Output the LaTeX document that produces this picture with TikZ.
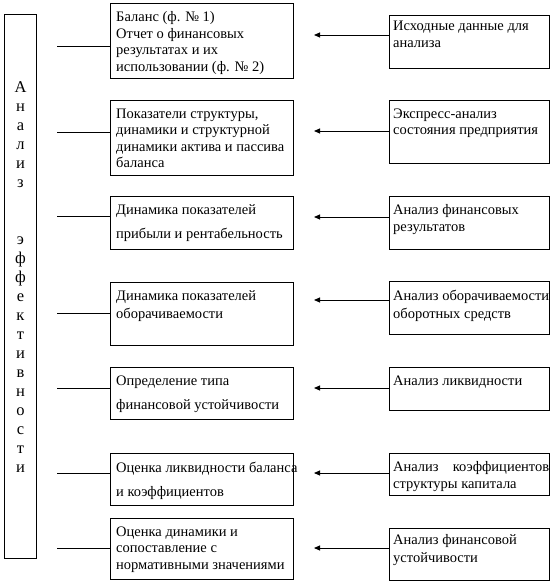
\documentclass[tikz,border=0pt]{standalone}
\usepackage{fontspec}
\setmainfont{Liberation Serif}
\usetikzlibrary{arrows.meta}

\begin{document}
\begin{tikzpicture}[x=1pt,y=-1pt,
  box/.style={draw,line width=1pt,anchor=north west,inner sep=0pt},
  txt/.style={anchor=north west,align=left,inner xsep=6pt,inner ysep=8.5pt,font=\fontsize{14.5}{16.5}\selectfont},
  wide/.style={font=\fontsize{14.5}{24}\selectfont},
  rtxt/.style={txt,inner xsep=4pt},
  arr/.style={line width=0.9pt,-{Triangle[length=6pt,width=5pt]}},
  link/.style={line width=0.9pt}]
\useasboundingbox (0,0) rectangle (554,585);

% left column
\node[box,minimum width=32,minimum height=544] (an) at (4,14) {};
\node[font=\fontsize{16.5}{19}\selectfont,align=center] (ant) at ([yshift=9]an.center)
  {А\\н\\а\\л\\и\\з\\[38pt]э\\ф\\ф\\е\\к\\т\\и\\в\\н\\о\\с\\т\\и};

% middle column
\node[box,minimum width=183,minimum height=75] (m1) at (110,3) {};
\node[txt] (m1t) at (m1.north west) {Баланс (ф. № 1)\\Отчет о финансовых\\результатах и их\\использовании (ф. № 2)};
\node[box,minimum width=183,minimum height=75] (m2) at (110,100) {};
\node[txt] (m2t) at (m2.north west) {Показатели структуры,\\динамики и структурной\\динамики актива и пассива\\баланса};
\node[box,minimum width=183,minimum height=53] (m3) at (110,196) {};
\node[txt,wide] (m3t) at (m3.north west) {Динамика показателей\\прибыли и рентабельность};
\node[box,minimum width=183,minimum height=63] (m4) at (110,282) {};
\node[txt] (m4t) at (m4.north west) {Динамика показателей\\[1.5pt]оборачиваемости};
\node[box,minimum width=183,minimum height=52] (m5) at (110,367) {};
\node[txt,wide] (m5t) at (m5.north west) {Определение типа\\финансовой устойчивости};
\node[box,minimum width=183,minimum height=52] (m6) at (110,453) {};
\node[txt,wide] (m6t) at (m6.north west) {Оценка ликвидности баланса\\и коэффициентов};
\node[box,minimum width=183,minimum height=61] (m7) at (110,518) {};
\node[txt] (m7t) at (m7.north west) {Оценка динамики и\\сопоставление с\\нормативными значениями};

% right column
\node[box,minimum width=160,minimum height=53] (r1) at (389,15) {};
\node[rtxt,inner ysep=6pt] (r1t) at (r1.north west) {Исходные данные для\\анализа};
\node[box,minimum width=160,minimum height=63] (r2) at (389,100) {};
\node[rtxt] (r2t) at (r2.north west) {Экспресс-анализ\\состояния предприятия};
\node[box,minimum width=160,minimum height=53] (r3) at (389,196) {};
\node[rtxt] (r3t) at (r3.north west) {Анализ финансовых\\результатов};
\node[box,minimum width=160,minimum height=53] (r4) at (389,281) {};
\node[rtxt] (r4t) at (r4.north west) {Анализ оборачиваемости\\[1.5pt]оборотных средств};
\node[box,minimum width=160,minimum height=43] (r5) at (389,367) {};
\node[rtxt] (r5t) at (r5.north west) {Анализ ликвидности};
\node[box,minimum width=160,minimum height=42] (r6) at (389,453) {};
\node[rtxt] (r6t) at (r6.north west) {\makebox[156pt][s]{Анализ коэффициентов}\\структуры капитала};
\node[box,minimum width=160,minimum height=52] (r7) at (389,528) {};
\node[rtxt,inner ysep=6.5pt] (r7t) at (r7.north west) {Анализ финансовой\\[1.5pt]устойчивости};

% connectors
\foreach \i/\ya/\yb in {1/35/46,2/131/132,3/217/216,4/300/313,5/388/388,6/473/473,7/548/548}{
  \coordinate (a\i) at (314,\ya);
  \coordinate (b\i) at (57,\yb);
  \draw[arr] (r\i.west |- a\i) -- (a\i);
  \draw[link] (b\i) -- (b\i -| m\i.west);
}
\end{tikzpicture}
\end{document}
